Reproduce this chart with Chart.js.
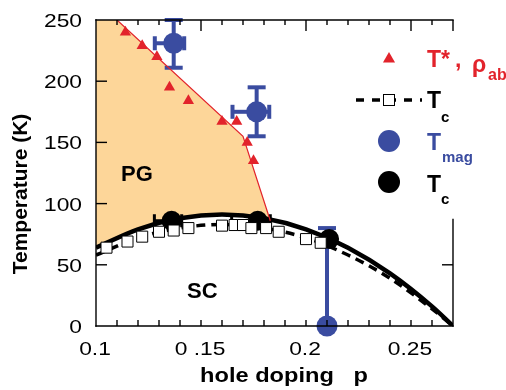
<!DOCTYPE html>
<html>
<head>
<meta charset="utf-8">
<script src="https://cdn.jsdelivr.net/npm/chart.js@4.4.1/dist/chart.umd.min.js"></script>
<style>
  html, body { margin: 0; padding: 0; background: #fff; }
  #caja { width: 506px; height: 390px; }
</style>
</head>
<body>
<div id="caja"><canvas id="grafico" width="506" height="390"></canvas></div>
<script>
// T*, rho_ab (triangulos rojos)
const tStarP = [0.114, 0.122, 0.129, 0.135, 0.144, 0.160, 0.167, 0.172, 0.175];
const tStarT = [240, 229, 220, 195, 184, 167, 167, 150, 135];

// borde de la zona PG (linea roja)
const pgBordeP = [0.100, 0.110, 0.170, 0.183];
const pgBordeT = [250, 250, 155, 86];

// Tc (cuadrados abiertos)
const tcAbiertoP = [0.105, 0.115, 0.122, 0.130, 0.137, 0.144, 0.160, 0.166, 0.170, 0.174, 0.181, 0.187, 0.200, 0.207];
const tcAbiertoT = [64, 69, 73, 77, 78, 80, 82, 82.5, 82.5, 80, 80, 77, 71, 68];

// curvas Tc (continua y discontinua)
const curvaP = [0.10, 0.12, 0.14, 0.16, 0.18, 0.20, 0.22, 0.24, 0.26, 0.27];
const curvaContinuaT = [64, 79, 88, 91, 88, 79, 64, 43, 16, 0];
const curvaDiscontT = [58, 72, 80, 83, 80, 72, 58, 39, 14, 0];

// Tmag (circulos azules) y sus barras de error
const tmagP = [0.137, 0.1765, 0.210];
const tmagT = [231, 175, 0];
const tmagErrIzq = [0.009, 0.0115, 0];
const tmagErrDer = [0.005, 0.006, 0];
const tmagErrArriba = [19, 20, 80];
const tmagErrAbajo = [20, 20, 0];

// Tc (circulos negros)
const tcP = [0.136, 0.177, 0.211];
const tcT = [86, 86, 71];
const tcErrIzq = [0.0082, 0.0124, 0];
const tcErrDer = [0.0048, 0.006, 0];
const tcErrArriba = [0, 0, 0];
const tcErrAbajo = [0, 0, 0];

// ejes
const xTicks = [0.1, 0.15, 0.2, 0.25];
const xTickLabels = ['0.1', '0 .15', '0.2', '0.25'];
const yTicks = [0, 50, 100, 150, 200, 250];
const yTickLabels = ['0', '50', '100', '150', '200', '250'];

const ROJO = '#e2232b';
const AZUL = '#3a4ca0';
const NARANJA = '#fdd699';
const FUENTE = "'Liberation Sans', Arial, Helvetica, sans-serif";

function puntos(xs, ys) {
    return xs.map((x, i) => ({ x: x, y: ys[i] }));
}

function texto(ctx, txt, x, y, font, color, sx, align) {
    ctx.save();
    ctx.font = font;
    ctx.fillStyle = color;
    ctx.textAlign = align || 'left';
    ctx.textBaseline = 'alphabetic';
    ctx.translate(x, y);
    ctx.scale(sx || 1, 1);
    ctx.fillText(txt, 0, 0);
    ctx.restore();
}

function linea(ctx, x1, y1, x2, y2) {
    ctx.beginPath();
    ctx.moveTo(x1, y1);
    ctx.lineTo(x2, y2);
    ctx.stroke();
}

// barras de error dibujadas justo antes de su serie
const barrasError = {
    id: 'barrasError',
    beforeDatasetDraw(chart, args) {
        const ds = chart.data.datasets[args.index];
        if (!ds.errores) return;
        const e = ds.errores;
        const sx = chart.scales.x, sy = chart.scales.y;
        const ctx = chart.ctx;
        ctx.save();
        ctx.strokeStyle = ds.backgroundColor;
        ctx.lineWidth = e.grosor;
        ds.data.forEach((pt, i) => {
            const px = sx.getPixelForValue(pt.x);
            const py = sy.getPixelForValue(pt.y);
            if (e.izq[i] > 0) {
                const xl = sx.getPixelForValue(pt.x - e.izq[i]);
                linea(ctx, xl, py, px, py);
                linea(ctx, xl, py - e.tapaH / 2, xl, py + e.tapaH / 2);
            }
            if (e.der[i] > 0) {
                const xr = sx.getPixelForValue(pt.x + e.der[i]);
                linea(ctx, px, py, xr, py);
                linea(ctx, xr, py - e.tapaH / 2, xr, py + e.tapaH / 2);
            }
            if (e.arriba[i] > 0) {
                const yt = sy.getPixelForValue(pt.y + e.arriba[i]);
                linea(ctx, px, py, px, yt);
                linea(ctx, px - e.tapaV / 2, yt, px + e.tapaV / 2, yt);
            }
            if (e.abajo[i] > 0) {
                const yb = sy.getPixelForValue(pt.y - e.abajo[i]);
                linea(ctx, px, py, px, yb);
                linea(ctx, px - e.tapaV / 2, yb, px + e.tapaV / 2, yb);
            }
        });
        ctx.restore();
    }
};

// marco con marcas hacia dentro
const marco = {
    id: 'marco',
    afterDatasetsDraw(chart) {
        const ctx = chart.ctx;
        const a = chart.chartArea;
        const sx = chart.scales.x, sy = chart.scales.y;
        ctx.save();
        ctx.strokeStyle = '#000';
        ctx.lineWidth = 1.4;
        ctx.lineCap = 'square';
        linea(ctx, a.left, a.top, a.left, a.bottom);
        linea(ctx, a.left, a.bottom, a.right, a.bottom);
        linea(ctx, a.left, a.top, a.right, a.top);
        linea(ctx, a.right, a.bottom, a.right, sy.getPixelForValue(87));
        ctx.lineCap = 'butt';
        for (let i = 11; i <= 27; i++) {
            const px = sx.getPixelForValue(i / 100);
            const mayor = i % 5 === 0 || i === 27;
            if (i < 27) linea(ctx, px, a.bottom, px, a.bottom - 6);
            linea(ctx, px, a.top, px, a.top + (mayor ? 11 : 5));
        }
        yTicks.forEach(v => {
            const py = sy.getPixelForValue(v);
            if (v > 0 && v < 250) linea(ctx, a.left, py, a.left + 11, py);
        });
        linea(ctx, a.right, sy.getPixelForValue(50), a.right - 11, sy.getPixelForValue(50));
        ctx.restore();
    },
    afterDraw(chart) {
        const ctx = chart.ctx;
        const a = chart.chartArea;
        const sx = chart.scales.x, sy = chart.scales.y;

        // etiquetas de los ejes
        yTicks.forEach((v, i) => {
            texto(ctx, yTickLabels[i], 82, sy.getPixelForValue(v) + 7, '19px ' + FUENTE, '#000', 1.2, 'right');
        });
        xTicks.forEach((v, i) => {
            texto(ctx, xTickLabels[i], sx.getPixelForValue(v) - 1, a.bottom + 29, '19px ' + FUENTE, '#000', 1.2, 'center');
        });
        texto(ctx, 'hole doping   p', 284, 382, 'bold 20px ' + FUENTE, '#000', 1.18, 'center');

        ctx.save();
        ctx.translate(27, 194);
        ctx.rotate(-Math.PI / 2);
        ctx.font = 'bold 21px ' + FUENTE;
        ctx.fillStyle = '#000';
        ctx.textAlign = 'center';
        ctx.fillText('Temperature (K)', 0, 0);
        ctx.restore();

        // zonas
        texto(ctx, 'PG', 121, 181, 'bold 22px ' + FUENTE, '#000');
        texto(ctx, 'SC', 187, 298, 'bold 22px ' + FUENTE, '#000');

        // leyenda
        const grande = 'bold 23px ' + FUENTE;
        const sub = 'bold 15px ' + FUENTE;
        ctx.save();
        ctx.fillStyle = ROJO;
        Chart.helpers.drawPoint(ctx, { pointStyle: 'triangle', radius: 7, rotation: 0, borderWidth: 0 }, 389, 59);
        ctx.restore();
        texto(ctx, 'T*', 427, 67, grande, ROJO);
        texto(ctx, ',', 455, 67, grande, ROJO);
        texto(ctx, 'ρ', 472, 72, grande, ROJO);
        texto(ctx, 'ab', 488, 80, 'bold 16px ' + FUENTE, ROJO);

        ctx.save();
        ctx.strokeStyle = '#000';
        ctx.lineWidth = 3.5;
        ctx.setLineDash([8, 8]);
        linea(ctx, 356, 100, 422, 100);
        ctx.setLineDash([]);
        ctx.fillStyle = '#fff';
        ctx.lineWidth = 1;
        ctx.fillRect(383.5, 94.5, 11, 11);
        ctx.strokeRect(383.5, 94.5, 11, 11);
        ctx.restore();
        texto(ctx, 'T', 427, 108, grande, '#000');
        texto(ctx, 'c', 441, 122, sub, '#000');

        ctx.save();
        ctx.fillStyle = AZUL;
        ctx.beginPath();
        ctx.arc(389, 141, 11, 0, Math.PI * 2);
        ctx.fill();
        ctx.fillStyle = '#000';
        ctx.beginPath();
        ctx.arc(389, 182, 11, 0, Math.PI * 2);
        ctx.fill();
        ctx.restore();
        texto(ctx, 'T', 427, 150, grande, AZUL);
        texto(ctx, 'mag', 442, 162, sub, AZUL);
        texto(ctx, 'T', 427, 192, grande, '#000');
        texto(ctx, 'c', 441, 204, sub, '#000');
    }
};

new Chart(document.getElementById('grafico'), {
    type: 'line',
    data: {
        datasets: [
            {   // 0: T*
                data: puntos(tStarP, tStarT),
                showLine: false,
                pointStyle: 'triangle',
                pointRadius: 6.5,
                backgroundColor: ROJO,
                borderColor: ROJO,
                pointBorderWidth: 0,
                order: 1
            },
            {   // 1: linea roja
                data: puntos(pgBordeP.slice(1), pgBordeT.slice(1)),
                borderColor: ROJO,
                borderWidth: 1.2,
                pointRadius: 0,
                fill: false,
                order: 2
            },
            {   // 2: Tc abiertos
                data: puntos(tcAbiertoP, tcAbiertoT),
                showLine: false,
                pointStyle: 'rect',
                pointRadius: 7.8,
                backgroundColor: '#fff',
                borderColor: '#000',
                pointBorderWidth: 1,
                order: 3
            },
            {   // 3: Tc circulos negros
                data: puntos(tcP, tcT),
                showLine: false,
                pointRadius: 10,
                backgroundColor: '#000',
                borderColor: '#000',
                pointBorderWidth: 0,
                clip: false,
                order: 4,
                errores: { izq: tcErrIzq, der: tcErrDer, arriba: tcErrArriba, abajo: tcErrAbajo, grosor: 3, tapaH: 13, tapaV: 13 }
            },
            {   // 4: Tmag
                data: puntos(tmagP, tmagT),
                showLine: false,
                pointRadius: 10.5,
                backgroundColor: AZUL,
                borderColor: AZUL,
                pointBorderWidth: 0,
                clip: false,
                order: 5,
                errores: { izq: tmagErrIzq, der: tmagErrDer, arriba: tmagErrArriba, abajo: tmagErrAbajo, grosor: 4, tapaH: 14, tapaV: 18 }
            },
            {   // 5: curva continua
                data: puntos(curvaP, curvaContinuaT),
                borderColor: '#000',
                borderWidth: 4.5,
                pointRadius: 0,
                cubicInterpolationMode: 'monotone',
                fill: false,
                order: 6
            },
            {   // 6: curva discontinua
                data: puntos(curvaP, curvaDiscontT),
                borderColor: '#000',
                borderWidth: 3.5,
                borderDash: [9, 6],
                pointRadius: 0,
                cubicInterpolationMode: 'monotone',
                fill: false,
                order: 7
            },
            {   // 7: relleno PG hasta la curva continua
                data: puntos(pgBordeP, pgBordeT),
                borderWidth: 0,
                borderColor: 'rgba(0,0,0,0)',
                backgroundColor: NARANJA,
                pointRadius: 0,
                fill: 5,
                order: 8
            }
        ]
    },
    options: {
        responsive: false,
        devicePixelRatio: 1,
        animation: false,
        layout: { padding: { top: 20, right: 53, left: 0, bottom: 0 } },
        plugins: { legend: { display: false }, tooltip: { enabled: false } },
        scales: {
            x: {
                type: 'linear', min: 0.1, max: 0.27,
                grid: { display: false }, border: { display: false },
                ticks: { display: false },
                afterFit: s => { s.height = 64; }
            },
            y: {
                min: 0, max: 250,
                grid: { display: false }, border: { display: false },
                ticks: { display: false },
                afterFit: s => { s.width = 96; }
            }
        }
    },
    plugins: [barrasError, marco]
});
</script>
</body>
</html>
